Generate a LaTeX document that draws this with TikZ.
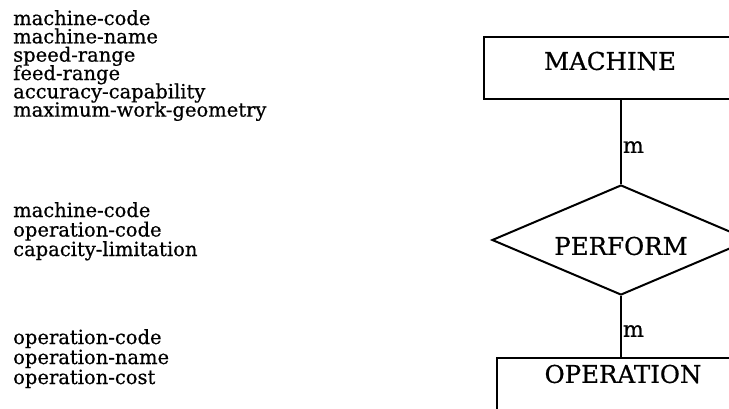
\documentclass[tikz,border=0pt]{standalone}
\usepackage{fontspec}
\setmainfont{DejaVu Serif}[FakeBold=0.6]
\usetikzlibrary{shapes.geometric}
\begin{document}
\begin{tikzpicture}[x=1pt,y=-1pt,
  attr/.style={anchor=base west,inner sep=0pt,font=\fontsize{19.5}{21}\selectfont},
  entity/.style={draw,line width=2pt,rectangle,inner sep=0pt,
    minimum width=252pt,minimum height=62pt,font=\fontsize{24.5}{26}\selectfont,
    text height=17.8pt},
  relation/.style={draw,line width=2pt,diamond,inner sep=0pt,aspect=2.35,
    minimum width=258pt,minimum height=110pt,font=\fontsize{24.5}{26}\selectfont,
    text height=29.8pt,text depth=0pt},
  link/.style={line width=2pt},
  card/.style={anchor=base west,inner sep=0pt,xshift=1pt,font=\fontsize{22}{24}\selectfont}]
\useasboundingbox (0,0) rectangle (729,408);
\clip (0,0) rectangle (729,408);

% attributes of MACHINE
\node[attr] (ma1) at (13,25)    {machine-code};
\node[attr] (ma2) at (13,43.3)  {machine-name};
\node[attr] (ma3) at (13,61.6)  {speed-range};
\node[attr] (ma4) at (13,80)    {feed-range};
\node[attr] (ma5) at (13,98.3)  {accuracy-capability};
\node[attr] (ma6) at (13,116.6) {maximum-work-geometry};

% attributes of PERFORM
\node[attr] (pa1) at (13,217)   {machine-code};
\node[attr] (pa2) at (13,236.5) {operation-code};
\node[attr] (pa3) at (13,256)   {capacity-limitation};

% attributes of OPERATION
\node[attr] (oa1) at (13,344) {operation-code};
\node[attr] (oa2) at (13,364) {operation-name};
\node[attr] (oa3) at (13,384) {operation-cost};

% entities and relationship
\node[entity,text depth=14pt] (machine) at (610,68) {MACHINE};
\node[relation] (perform) at (621,240) {PERFORM};
\node[entity,text depth=30pt] (operation) at (623,389) {OPERATION};

\draw[link] (machine.south -| perform.north) -- node[card,pos=0.63] {m} (perform.north);
\draw[link] (perform.south) -- node[card,pos=0.67] {m} (perform.south |- operation.north);
\end{tikzpicture}
\end{document}
